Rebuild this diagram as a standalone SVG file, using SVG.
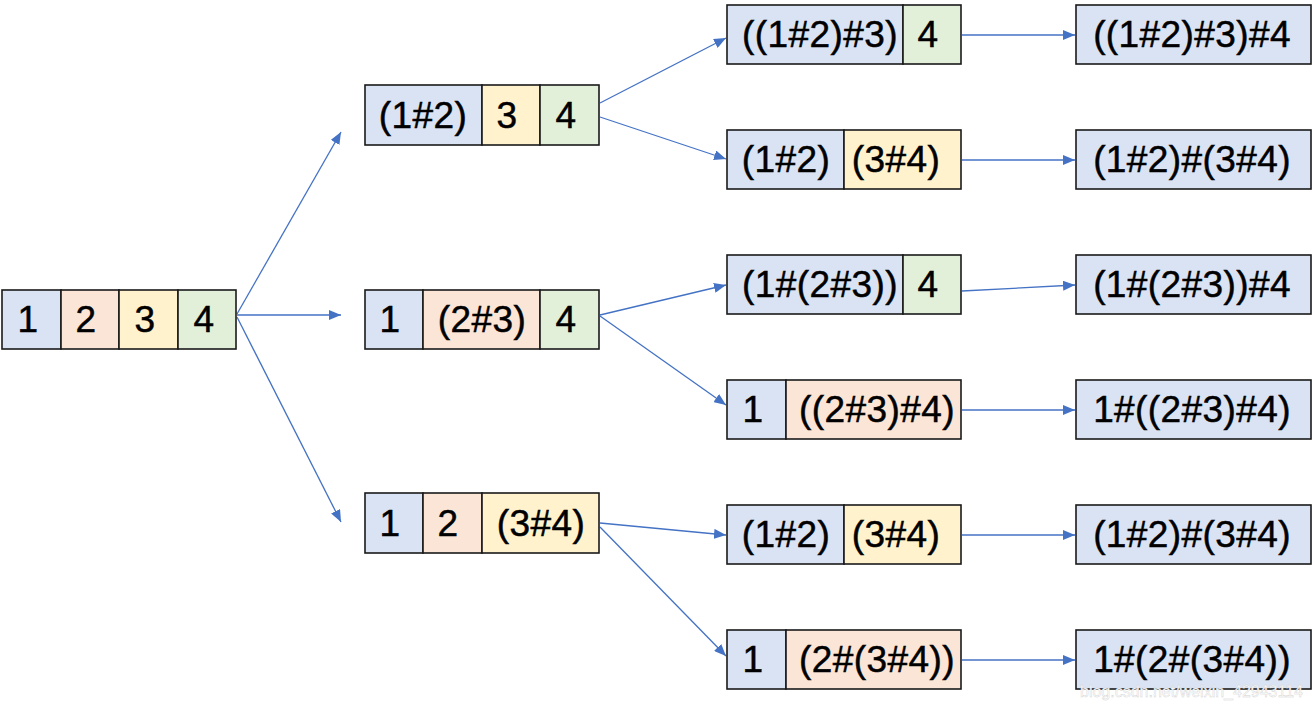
<svg xmlns="http://www.w3.org/2000/svg" width="1314" height="705" viewBox="0 0 1314 705">
<style>
.b{fill:#DAE3F3}.p{fill:#FBE5D6}.y{fill:#FFF2CC}.g{fill:#E2F0D9}
rect{stroke:#1a1a1a;stroke-width:1.6}
text{font-family:"Liberation Sans",Arial,sans-serif;font-size:37px;fill:#000;stroke:#000;stroke-width:0.5;letter-spacing:0.4px;text-anchor:middle}
.c line{stroke:#4472C4;stroke-width:1.3;marker-end:url(#ah)}
.wm{font-size:16px;fill:#ffffff;stroke:#d0d0d0;stroke-width:0.4;letter-spacing:0;text-anchor:end}
</style>
<defs>
<marker id="ah" viewBox="0 0 12 10" refX="12" refY="5" markerWidth="12" markerHeight="10" markerUnits="userSpaceOnUse" orient="auto">
<path d="M0,0 L12,5 L0,10 z" fill="#4472C4"/>
</marker>
</defs>
<rect x="0" y="0" width="1314" height="705" fill="#ffffff" style="stroke:none"/>
<g class="c" id="connectors">
<line x1="237" y1="314" x2="341" y2="132"/>
<line x1="237" y1="315" x2="341" y2="315"/>
<line x1="237" y1="317" x2="341" y2="522"/>
<line x1="600" y1="103" x2="726" y2="38"/>
<line x1="600" y1="117" x2="726" y2="159"/>
<line x1="600" y1="315" x2="726" y2="285"/>
<line x1="600" y1="316" x2="726" y2="405"/>
<line x1="600" y1="523" x2="726" y2="535"/>
<line x1="600" y1="527" x2="726" y2="656"/>
<line x1="962" y1="35" x2="1075" y2="35"/>
<line x1="962" y1="160" x2="1075" y2="160"/>
<line x1="962" y1="291" x2="1075" y2="285"/>
<line x1="962" y1="410" x2="1075" y2="410"/>
<line x1="962" y1="535" x2="1075" y2="535"/>
<line x1="962" y1="660" x2="1075" y2="660"/>
</g>
<g id="n0">
<rect class="b" x="2" y="290" width="59" height="59"/>
<rect class="p" x="61" y="290" width="58" height="59"/>
<rect class="y" x="119" y="290" width="59" height="59"/>
<rect class="g" x="178" y="290" width="58" height="59"/>
<text x="28" y="332">1</text><text x="86" y="332">2</text><text x="145" y="332">3</text><text x="204" y="332">4</text>
</g>
<g id="m1">
<rect class="b" x="365" y="85" width="117" height="60"/>
<rect class="y" x="482" y="85" width="58" height="60"/>
<rect class="g" x="540" y="85" width="59" height="60"/>
<text x="423" y="127.5">(1#2)</text><text x="507" y="127.5">3</text><text x="566" y="127.5">4</text>
</g>
<g id="m2">
<rect class="b" x="365" y="290" width="58" height="59"/>
<rect class="p" x="423" y="290" width="117" height="59"/>
<rect class="g" x="540" y="290" width="59" height="59"/>
<text x="390" y="332">1</text><text x="482" y="332">(2#3)</text><text x="566" y="332">4</text>
</g>
<g id="m3">
<rect class="b" x="365" y="493" width="58" height="60"/>
<rect class="p" x="423" y="493" width="59" height="60"/>
<rect class="y" x="482" y="493" width="117" height="60"/>
<text x="390" y="535.5">1</text><text x="448" y="535.5">2</text><text x="541" y="535.5">(3#4)</text>
</g>
<g id="r1">
<rect class="b" x="727" y="5" width="176" height="59"/>
<rect class="g" x="903" y="5" width="58" height="59"/>
<text x="820" y="47">((1#2)#3)</text><text x="928" y="47">4</text>
</g>
<g id="r2">
<rect class="b" x="727" y="130" width="117" height="59"/>
<rect class="y" x="844" y="130" width="117" height="59"/>
<text x="786" y="172">(1#2)</text><text x="896" y="172">(3#4)</text>
</g>
<g id="r3">
<rect class="b" x="727" y="255" width="176" height="59"/>
<rect class="g" x="903" y="255" width="58" height="59"/>
<text x="820" y="297">(1#(2#3))</text><text x="928" y="297">4</text>
</g>
<g id="r4">
<rect class="b" x="727" y="380" width="59" height="59"/>
<rect class="p" x="786" y="380" width="175" height="59"/>
<text x="753" y="422">1</text><text x="877" y="422">((2#3)#4)</text>
</g>
<g id="r5">
<rect class="b" x="727" y="505" width="117" height="59"/>
<rect class="y" x="844" y="505" width="117" height="59"/>
<text x="786" y="547">(1#2)</text><text x="896" y="547">(3#4)</text>
</g>
<g id="r6">
<rect class="b" x="727" y="630" width="59" height="59"/>
<rect class="p" x="786" y="630" width="175" height="59"/>
<text x="753" y="672">1</text><text x="877" y="672">(2#(3#4))</text>
</g>
<g id="f1"><rect class="b" x="1076" y="5" width="235" height="59"/><text x="1192" y="47">((1#2)#3)#4</text></g>
<g id="f2"><rect class="b" x="1076" y="130" width="235" height="59"/><text x="1192" y="172">(1#2)#(3#4)</text></g>
<g id="f3"><rect class="b" x="1076" y="255" width="235" height="59"/><text x="1192" y="297">(1#(2#3))#4</text></g>
<g id="f4"><rect class="b" x="1076" y="380" width="235" height="59"/><text x="1192" y="422">1#((2#3)#4)</text></g>
<g id="f5"><rect class="b" x="1076" y="505" width="235" height="59"/><text x="1192" y="547">(1#2)#(3#4)</text></g>
<g id="f6"><rect class="b" x="1076" y="630" width="235" height="59"/><text x="1192" y="672">1#(2#(3#4))</text></g>
<text class="wm" x="1303" y="697">blog.csdn.net/weixin_42943114</text>
</svg>
